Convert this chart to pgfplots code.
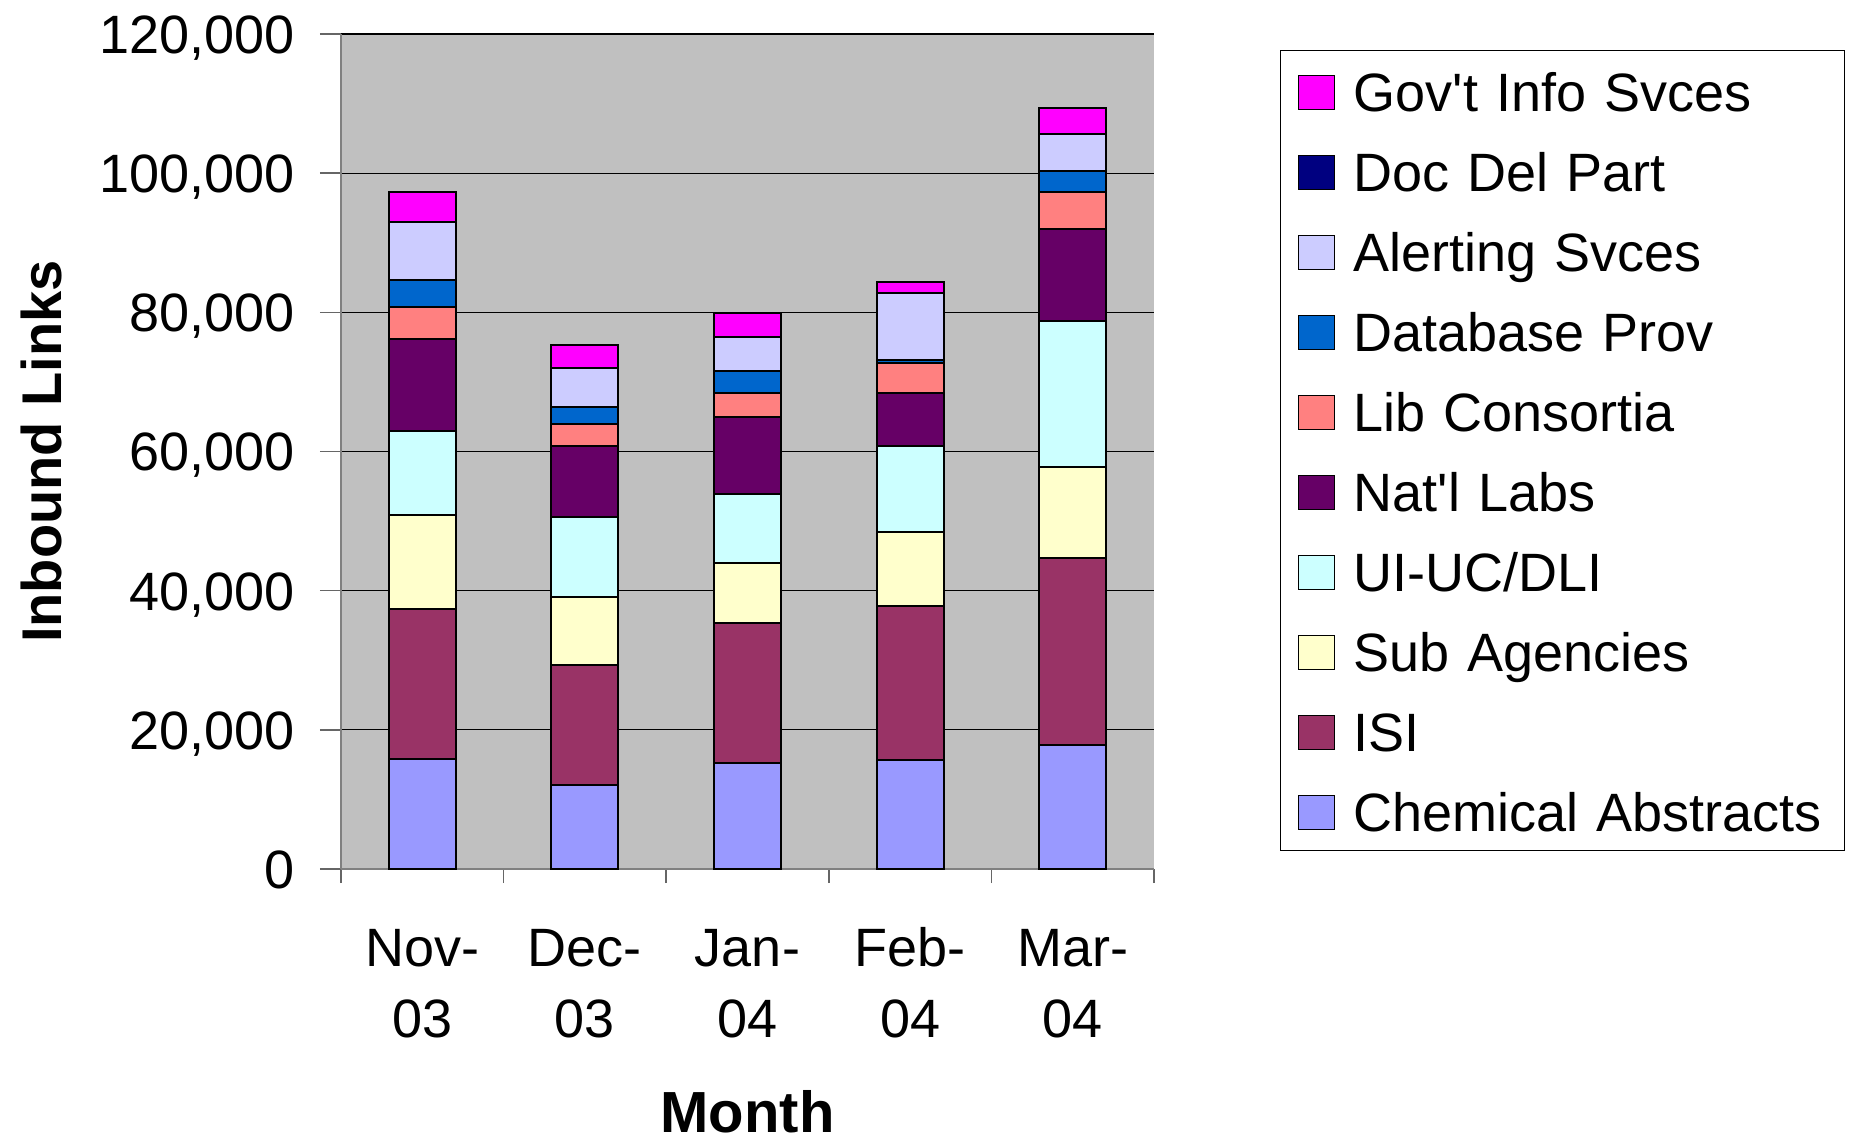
\documentclass[border=0pt]{standalone}
\usepackage{fontspec}
\setmainfont{Liberation Sans}
\usepackage{pgfplots}
\pgfplotsset{compat=1.18}
\definecolor{cChem}{HTML}{9999FF}
\definecolor{cISI}{HTML}{993366}
\definecolor{cSub}{HTML}{FFFFCC}
\definecolor{cUI}{HTML}{CCFFFF}
\definecolor{cNat}{HTML}{660066}
\definecolor{cLib}{HTML}{FF8080}
\definecolor{cDB}{HTML}{0066CC}
\definecolor{cDoc}{HTML}{000080}
\definecolor{cAlert}{HTML}{CCCCFF}
\definecolor{cGov}{HTML}{FF00FF}
\definecolor{plotgray}{RGB}{192,192,192}
\begin{document}
\begin{tikzpicture}
\path[use as bounding box] (-170.5pt,-139pt) rectangle (757.5pt,434.5pt);
\begin{axis}[
  scale only axis, width=406.5pt, height=417.5pt,
  ybar stacked, bar width=33.5pt,
  xmin=-0.5, xmax=4.5, ymin=0, ymax=120000,
  xtick={0,1,2,3,4},
  xticklabels={{Nov-\\03},{Dec-\\03},{Jan-\\04},{Feb-\\04},{Mar-\\04}},
  minor xtick={-0.5,0.5,1.5,2.5,3.5,4.5},
  major x tick style={draw=none},
  ytick={0,20000,40000,60000,80000,100000,120000},
  yticklabels={0,{20,000},{40,000},{60,000},{80,000},{100,000},{120,000}},
  scaled y ticks=false,
  ymajorgrids, grid style={black, line width=0.6pt},
  tick align=outside, major tick length=10.5pt, minor tick length=7pt,
  tick style={black!60, line width=0.8pt},
  axis lines*=left,
  axis line style={draw=black!50, line width=1pt},
  axis background/.style={fill=plotgray},
  ticklabel style={font=\fontsize{27}{35.5}\selectfont},
  xticklabel style={align=center, anchor=north, inner sep=0pt, text height=19.5pt, yshift=-54pt},
  yticklabel style={anchor=base east, inner sep=0pt, xshift=-12.5pt, yshift=-9.7pt},
  xlabel={Month}, ylabel={Inbound Links},
  every axis x label/.style={at={(axis description cs:0.5,-0.316)}, anchor=base, inner sep=0pt, font=\bfseries\fontsize{29}{30}\selectfont},
  every axis y label/.style={at={(axis description cs:-0.369,0.5)}, rotate=90, anchor=center, font=\bfseries\fontsize{28}{30}\selectfont},
  reverse legend,
  legend cell align=left,
  legend image code/.code={\draw[#1, line width=0.6pt] (0pt,-9.5pt) rectangle (18pt,7.5pt);},
  legend style={at={(1,1)}, xshift=63pt, yshift=-8pt, anchor=north west,
    draw=black, line width=0.6pt, fill=white,
    inner xsep=8.5pt, inner ysep=0pt, row sep=0pt, column sep=9.5pt,
    font=\fontsize{27}{30}\selectfont,
    nodes={inner sep=0pt, text height=30.5pt, text depth=9.5pt, text width=237pt, align=left}},
]
\addplot[fill=cChem, draw=black, line width=1pt] coordinates {(0,15800) (1,12070) (2,15250) (3,15600) (4,17770)};
\addplot[fill=cISI, draw=black, line width=1pt] coordinates {(0,21620) (1,17290) (2,20060) (3,22170) (4,26860)};
\addplot[fill=cSub, draw=black, line width=1pt] coordinates {(0,13430) (1,9690) (2,8680) (3,10680) (4,13140)};
\addplot[fill=cUI, draw=black, line width=1pt] coordinates {(0,12130) (1,11530) (2,9970) (3,12370) (4,21010)};
\addplot[fill=cNat, draw=black, line width=1pt] coordinates {(0,13160) (1,10230) (2,10970) (3,7570) (4,13190)};
\addplot[fill=cLib, draw=black, line width=1pt] coordinates {(0,4670) (1,3120) (2,3460) (3,4310) (4,5270)};
\addplot[fill=cDB, draw=black, line width=1pt] coordinates {(0,3800) (1,2510) (2,3110) (3,400) (4,3120)};
\addplot[fill=cAlert, draw=black, line width=1pt] coordinates {(0,8340) (1,5630) (2,4980) (3,9660) (4,5280)};
\addplot[fill=cDoc, draw=black, line width=1pt] coordinates {(0,0) (1,0) (2,0) (3,0) (4,0)};
\addplot[fill=cGov, draw=black, line width=1pt] coordinates {(0,4410) (1,3250) (2,3460) (3,1580) (4,3780)};
\legend{Chemical Abstracts, ISI, Sub Agencies, UI-UC/DLI, Nat\textquotesingle l Labs, Lib Consortia, Database Prov, Alerting Svces, Doc Del Part, Gov\textquotesingle t Info Svces}
\end{axis}
\end{tikzpicture}
\end{document}
